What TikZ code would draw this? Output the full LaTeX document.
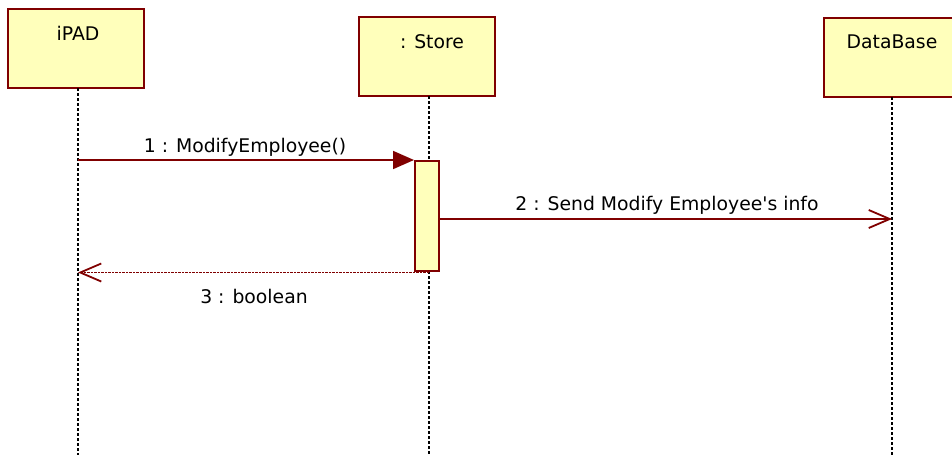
\documentclass[tikz,border=0pt]{standalone}
\usepackage{fontspec}
\setmainfont{DejaVu Sans}[Ligatures=TeXOff]
\usetikzlibrary{arrows.meta}
\definecolor{umlred}{HTML}{800000}
\definecolor{umlfill}{HTML}{FFFFBB}
\tikzset{
  objbox/.style={draw=umlred, fill=umlfill, line width=2pt, minimum width=136pt, minimum height=79pt, inner sep=0pt},
  actbox/.style={draw=umlred, fill=umlfill, line width=2pt, minimum width=24pt, minimum height=110pt, inner sep=0pt},
  lifeline/.style={draw=black, line width=1.1pt, dash pattern=on 3pt off 2pt},
  txt/.style={font=\fontsize{18.8}{20}\selectfont, text=black, inner sep=0pt, anchor=base},
  callmsg/.style={draw=umlred, line width=1.8pt, -{Triangle[length=21pt,width=18pt]}},
  asyncmsg/.style={draw=umlred, line width=1.8pt, -{Straight Barb[length=21pt,width=18pt,line width=1.8pt]}},
  retmsg/.style={draw=umlred, line width=1.8pt, dash pattern=on 2.5pt off 1pt, -{Straight Barb[length=21pt,width=18pt,line width=1.8pt]}},
}
\begin{document}
\begin{tikzpicture}[x=1pt,y=-1pt]
\useasboundingbox (0,0) rectangle (952,455);
% object boxes
\node[objbox] (ipad) at (76,48.5) {};
\node[objbox] (store) at (427,56.5) {};
\node[objbox] (db) at (892,57) {};
\node[txt] (ipadt) at (78,40) {iPAD};
\node[txt] (storet) at (432,48) {: Store};
\node[txt] (dbt) at (892,48.5) {DataBase};
% lifeline ends
\coordinate (ipadEnd) at (78,455);
\coordinate (storeEnd) at (429,455);
\coordinate (dbEnd) at (892,455);
\coordinate (ipadTop) at (78,88);
\coordinate (storeTop) at (429,96);
\coordinate (dbTop) at (892,97);
\draw[lifeline] (ipadTop) -- (ipadEnd);
\draw[lifeline] (storeTop) -- (storeEnd);
\draw[lifeline] (dbTop) -- (dbEnd);
% activation
\node[actbox] (act) at (427,216) {};
% messages
\coordinate (m2y) at (0,219);
\coordinate (m3y) at (0,272.5);
\draw[callmsg] (ipadEnd |- act.north west) -- (act.north west);
\draw[asyncmsg] (act.east |- m2y) -- (dbEnd |- m2y);
\draw[retmsg] (storeEnd |- m3y) -- (ipadEnd |- m3y);
% labels
\node[txt] (l1) at (245,152) {1 : ModifyEmployee()};
\node[txt] (l2) at (667,210) {2 : Send Modify Employee's info};
\node[txt] (l3) at (254,303) {3 : boolean};
\end{tikzpicture}
\end{document}
